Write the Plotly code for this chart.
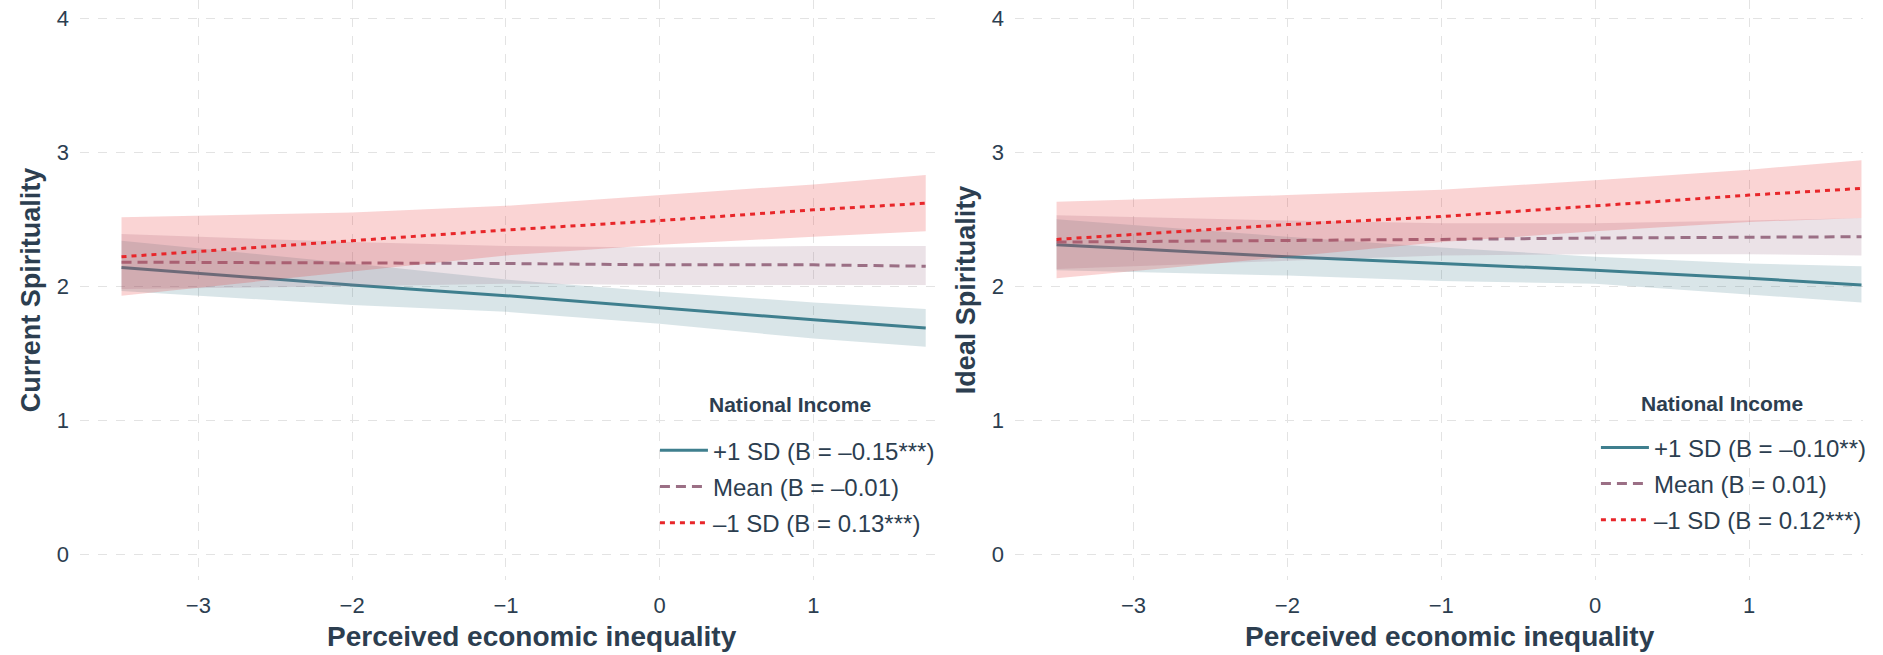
import plotly.graph_objects as go
from plotly.subplots import make_subplots

# ---------------- data ----------------
x_vals = [-3.5, -2, -1, 0, 1, 1.73]

# Panel 1: Current Spirituality
cur_hi_line = [2.14, 2.01, 1.93, 1.84, 1.75, 1.69]
cur_hi_upper = [2.34, 2.17, 2.05, 1.96, 1.88, 1.83]
cur_hi_lower = [1.965, 1.86, 1.81, 1.72, 1.61, 1.55]

cur_mean_line = [2.18, 2.175, 2.17, 2.16, 2.16, 2.15]
cur_mean_upper = [2.39, 2.33, 2.30, 2.29, 2.30, 2.30]
cur_mean_lower = [1.98, 2.00, 2.02, 2.01, 2.01, 2.01]

cur_lo_line = [2.22, 2.34, 2.42, 2.49, 2.57, 2.62]
cur_lo_upper = [2.515, 2.55, 2.60, 2.68, 2.76, 2.83]
cur_lo_lower = [1.93, 2.11, 2.23, 2.31, 2.37, 2.41]

# Panel 2: Ideal Spirituality
ide_hi_line = [2.31, 2.22, 2.17, 2.12, 2.06, 2.01]
ide_hi_upper = [2.50, 2.37, 2.29, 2.22, 2.17, 2.15]
ide_hi_lower = [2.12, 2.08, 2.04, 2.02, 1.94, 1.88]

ide_mean_line = [2.33, 2.34, 2.35, 2.36, 2.365, 2.37]
ide_mean_upper = [2.53, 2.49, 2.47, 2.47, 2.49, 2.51]
ide_mean_lower = [2.13, 2.19, 2.23, 2.24, 2.24, 2.23]

ide_lo_line = [2.35, 2.46, 2.52, 2.60, 2.68, 2.73]
ide_lo_upper = [2.63, 2.68, 2.72, 2.79, 2.87, 2.94]
ide_lo_lower = [2.06, 2.22, 2.33, 2.41, 2.48, 2.51]

cur_labels = ["+1 SD (B = \u20130.15***)", "Mean (B = \u20130.01)", "\u20131 SD (B = 0.13***)"]
ide_labels = ["+1 SD (B = \u20130.10**)", "Mean (B = 0.01)", "\u20131 SD (B = 0.12***)"]

y_title_1 = "Current Spirituality"
y_title_2 = "Ideal Spirituality"
x_title = "Perceived economic inequality"
legend_title = "National Income"

# ---------------- style ----------------
TEXT = "#2c3e50"
FONT = "Liberation Sans, Arial, Helvetica, sans-serif"
styles = [
    dict(color="rgb(63,127,142)", fill="rgba(63,127,142,0.2)", dash="solid"),
    dict(color="rgb(155,111,133)", fill="rgba(155,111,133,0.2)", dash="10px,6px"),
    dict(color="rgb(232,38,42)", fill="rgba(232,38,42,0.2)", dash="5px,5px"),
]

fig = make_subplots(rows=1, cols=2, horizontal_spacing=0.04)

panels = [
    (1, "legend", cur_labels,
     [(cur_hi_line, cur_hi_upper, cur_hi_lower),
      (cur_mean_line, cur_mean_upper, cur_mean_lower),
      (cur_lo_line, cur_lo_upper, cur_lo_lower)]),
    (2, "legend2", ide_labels,
     [(ide_hi_line, ide_hi_upper, ide_hi_lower),
      (ide_mean_line, ide_mean_upper, ide_mean_lower),
      (ide_lo_line, ide_lo_upper, ide_lo_lower)]),
]

for col, leg, labels, series in panels:
    for i, (line, up, lo) in enumerate(series):
        st = styles[i]
        grp = f"{leg}_{i}"
        fig.add_trace(go.Scatter(
            x=x_vals + x_vals[::-1], y=up + lo[::-1],
            fill="toself", fillcolor=st["fill"], line=dict(width=0),
            mode="lines", hoverinfo="skip", showlegend=False,
            legend=leg, legendgroup=grp), row=1, col=col)
        fig.add_trace(go.Scatter(
            x=x_vals, y=line, mode="lines", name=labels[i],
            line=dict(color=st["color"], width=3, dash=st["dash"]),
            legend=leg, legendgroup=grp), row=1, col=col)

axis_common = dict(
    showgrid=True, gridcolor="#e3e3e3", griddash="dash", gridwidth=1.3,
    zeroline=False, showline=False, ticks="",
    tickfont=dict(family=FONT, size=22, color=TEXT),
)
title_font = dict(family=FONT, size=27, color=TEXT, weight="bold")
xtitle_font = dict(family=FONT, size=28, color=TEXT, weight="bold")

fig.update_xaxes(**axis_common, tickvals=[-3, -2, -1, 0, 1], ticklabelstandoff=10)
fig.update_xaxes(range=[-3.77, 1.79], domain=[0, 0.4795], row=1, col=1)
fig.update_xaxes(range=[-3.77, 1.74], domain=[0.5244, 1.0], row=1, col=2)

fig.update_yaxes(**axis_common, tickvals=[0, 1, 2, 3, 4], range=[-0.19, 4.135],
                 ticklabelstandoff=10)
fig.update_yaxes(title=dict(text=y_title_1, standoff=8, font=title_font), row=1, col=1)
fig.update_yaxes(title=dict(text=y_title_2, standoff=8, font=title_font), row=1, col=2)

# x-axis titles
for xc in (0.2535, 0.7684):
    fig.add_annotation(text=x_title, xref="paper", yref="paper", x=xc, y=-0.098,
                       xanchor="center", yanchor="middle", showarrow=False,
                       font=xtitle_font)

# legend titles
legend_title_font = dict(family=FONT, size=21, color=TEXT, weight="bold")
for xc, yc in ((0.3983, 0.302), (0.9209, 0.305)):
    fig.add_annotation(text=legend_title, xref="paper", yref="paper", x=xc, y=yc,
                       xanchor="center", yanchor="middle", showarrow=False,
                       font=legend_title_font)

legend_common = dict(
    xanchor="right", yanchor="bottom", bgcolor="rgba(0,0,0,0)",
    font=dict(family=FONT, size=24, color=TEXT),
    tracegroupgap=2, traceorder="grouped", itemwidth=48,
)

fig.update_layout(
    width=1883, height=655,
    margin=dict(l=80, r=20, t=0, b=75),
    plot_bgcolor="white", paper_bgcolor="white",
    font=dict(family=FONT, color=TEXT),
    legend=dict(**legend_common, x=0.4823, y=0.06),
    legend2=dict(**legend_common, x=1.005, y=0.065),
    showlegend=True,
)

fig.write_html("out.html", config={"displayModeBar": False},
               post_script="document.body.style.margin='0';")
